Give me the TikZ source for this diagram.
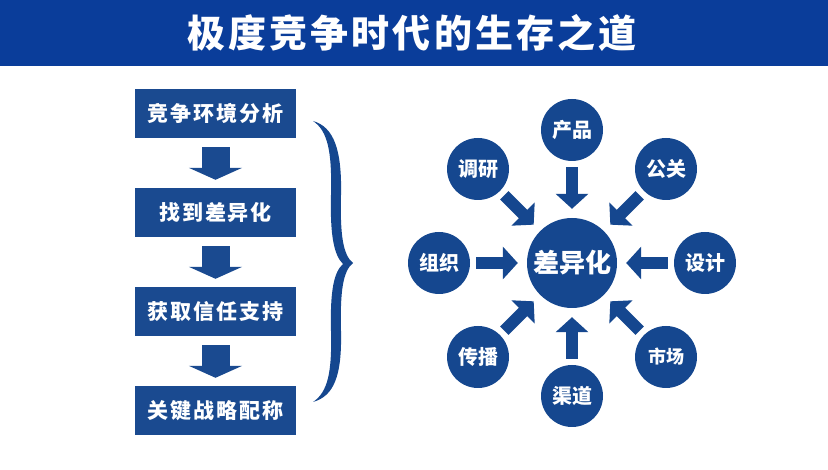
\documentclass[tikz,border=0pt]{standalone}
\usepackage{fontspec}
\newfontfamily\cjk{Noto Sans CJK SC}
\newfontfamily\cjkT{Noto Sans CJK SC}[LetterSpace=8]
\newfontfamily\cjkB{Noto Sans CJK SC}[LetterSpace=9]
\usetikzlibrary{arrows.meta}
\definecolor{bandblue}{HTML}{0A3D9A}
\definecolor{boxblue}{HTML}{1A4A90}
\definecolor{circblue}{HTML}{15478F}
\tikzset{
  stepbox/.style={fill=boxblue, minimum width=161pt, minimum height=49pt, inner sep=0pt,
    text=white, font=\cjkB\bfseries\fontsize{21}{24}\selectfont},
  downarrow/.style={draw=boxblue, line width=28pt,
    -{Triangle[width=53pt,length=12pt]}, shorten <=9pt, shorten >=8pt},
  smallcirc/.style={circle, fill=circblue, minimum size=62pt, inner sep=0pt,
    text=white, font=\cjk\bfseries\fontsize{20}{24}\selectfont},
  bigcirc/.style={circle, fill=circblue, minimum size=90pt, inner sep=0pt,
    text=white, font=\cjk\bfseries\fontsize{26}{29}\selectfont},
  inarrow/.style={draw=circblue, line width=12pt,
    -{Triangle[width=32pt,length=15pt]}, shorten <=6pt, shorten >=9pt},
}
\begin{document}
\begin{tikzpicture}[x=1pt,y=-1pt]
\useasboundingbox (0,0) rectangle (828,470);
\fill[white] (0,0) rectangle (828,470);
% title band
\fill[bandblue] (0,0) rectangle (828,66);
\node[text=white, font=\cjkT\bfseries\fontsize{38}{42}\selectfont] (title) at (412,33) {极度竞争时代的生存之道};
% left flow
\node[stepbox] (b1) at (215.5,113.5) {竞争环境分析};
\node[stepbox] (b2) at (215.5,212.5) {找到差异化};
\node[stepbox] (b3) at (215.5,311.5) {获取信任支持};
\node[stepbox] (b4) at (215.5,410.5) {关键战略配称};
\draw[downarrow] (b1) -- (b2);
\draw[downarrow] (b2) -- (b3);
\draw[downarrow] (b3) -- (b4);
% brace
\fill[circblue] (313,121) .. controls (334,127) and (342,150) .. (341,195)
  .. controls (340,235) and (343,255) .. (353,263)
  .. controls (343,271) and (340,291) .. (341,331)
  .. controls (342,376) and (334,396) .. (313,402)
  .. controls (328,392) and (332,372) .. (331,331)
  .. controls (330,290) and (334,272) .. (343,264)
  .. controls (334,255) and (330,236) .. (331,195)
  .. controls (332,152) and (328,131) .. (313,121) -- cycle;
% right wheel
\node[bigcirc] (c) at (572,263) {差异化};
\foreach \n/\t/\x/\y/\s in {p1/产品/572/130/20, p2/公关/666/169/20, p3/设计/705/263/20, p4/市场/666/357/18,
                          p5/渠道/572/396/20, p6/传播/478/357/20, p7/组织/439/263/20, p8/调研/478/169/20}{
  \node[smallcirc, font=\cjk\bfseries\fontsize{\s}{24}\selectfont] (\n) at (\x,\y) {\t};
  \draw[inarrow] (\n) -- (c);
}
\end{tikzpicture}
\end{document}
